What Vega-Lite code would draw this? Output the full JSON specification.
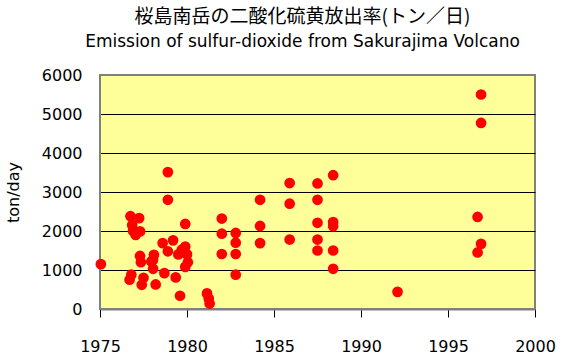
{
  "$schema": "https://vega.github.io/schema/vega-lite/v6.json",
  "width": 435,
  "height": 234,
  "autosize": "none",
  "padding": {"left": 100, "top": 75, "right": 26, "bottom": 45},
  "background": "white",
  "title": {
    "text": "桜島南岳の二酸化硫黄放出率(トン／日)",
    "subtitle": "Emission of sulfur-dioxide from Sakurajima Volcano",
    "font": "Noto Sans CJK JP",
    "fontSize": 19,
    "fontWeight": "normal",
    "color": "black",
    "subtitleFont": "DejaVu Sans",
    "subtitleFontSize": 17,
    "subtitleColor": "black",
    "subtitlePadding": 7,
    "anchor": "middle",
    "dx": -15,
    "offset": 17
  },
  "config": {
    "view": {"fill": "#FFFF99", "stroke": "#808080", "strokeWidth": 2},
    "axis": {
      "labelFont": "DejaVu Sans",
      "labelFontSize": 16,
      "labelColor": "black",
      "titleFont": "DejaVu Sans",
      "titleFontSize": 16,
      "titleFontWeight": "normal",
      "titleColor": "black",
      "domainColor": "black",
      "tickColor": "black",
      "labelFlush": false
    }
  },
  "data": {
    "values": [
      {"year": 1975.05, "so2": 1150},
      {"year": 1976.75, "so2": 2380},
      {"year": 1977.25, "so2": 2330},
      {"year": 1976.85, "so2": 2150},
      {"year": 1976.9, "so2": 2000},
      {"year": 1977.3, "so2": 1990},
      {"year": 1977.05, "so2": 1900},
      {"year": 1978.9, "so2": 3510},
      {"year": 1978.9, "so2": 2800},
      {"year": 1979.9, "so2": 2180},
      {"year": 1978.6, "so2": 1690},
      {"year": 1979.2, "so2": 1760},
      {"year": 1978.9, "so2": 1480},
      {"year": 1979.9, "so2": 1600},
      {"year": 1980.0, "so2": 1400},
      {"year": 1979.5, "so2": 1400},
      {"year": 1979.7, "so2": 1520},
      {"year": 1977.3, "so2": 1360},
      {"year": 1977.35, "so2": 1200},
      {"year": 1978.1, "so2": 1390},
      {"year": 1977.95, "so2": 1220},
      {"year": 1978.05, "so2": 1260},
      {"year": 1980.05, "so2": 1200},
      {"year": 1979.9, "so2": 1080},
      {"year": 1978.05, "so2": 1030},
      {"year": 1976.8, "so2": 880},
      {"year": 1977.5, "so2": 800},
      {"year": 1977.4, "so2": 620},
      {"year": 1976.7, "so2": 750},
      {"year": 1978.7, "so2": 920},
      {"year": 1979.35, "so2": 810},
      {"year": 1978.2, "so2": 630},
      {"year": 1979.6, "so2": 340},
      {"year": 1981.15, "so2": 400},
      {"year": 1981.25, "so2": 270},
      {"year": 1981.3, "so2": 140},
      {"year": 1982.0, "so2": 2320},
      {"year": 1982.0, "so2": 1930},
      {"year": 1982.0, "so2": 1410},
      {"year": 1982.8, "so2": 1950},
      {"year": 1982.8, "so2": 1700},
      {"year": 1982.8, "so2": 1410},
      {"year": 1982.8, "so2": 880},
      {"year": 1984.2, "so2": 2800},
      {"year": 1984.2, "so2": 2130},
      {"year": 1984.2, "so2": 1690},
      {"year": 1985.9, "so2": 3230},
      {"year": 1985.9, "so2": 2700},
      {"year": 1985.9, "so2": 1780},
      {"year": 1987.5, "so2": 3220},
      {"year": 1987.5, "so2": 2800},
      {"year": 1987.5, "so2": 2210},
      {"year": 1987.5, "so2": 1780},
      {"year": 1987.5, "so2": 1500},
      {"year": 1988.4, "so2": 3430},
      {"year": 1988.4, "so2": 2230},
      {"year": 1988.4, "so2": 2120},
      {"year": 1988.4, "so2": 1500},
      {"year": 1988.4, "so2": 1030},
      {"year": 1992.1, "so2": 440},
      {"year": 1996.9, "so2": 5500},
      {"year": 1996.9, "so2": 4770},
      {"year": 1996.7, "so2": 2360},
      {"year": 1996.9, "so2": 1670},
      {"year": 1996.7, "so2": 1450}
    ]
  },
  "mark": {"type": "point", "filled": true, "color": "#FF0000", "opacity": 1, "size": 115},
  "encoding": {
    "x": {
      "field": "year",
      "type": "quantitative",
      "scale": {"domain": [1975, 2000], "nice": false, "zero": false},
      "axis": {
        "title": null,
        "values": [1975, 1980, 1985, 1990, 1995, 2000],
        "format": "d",
        "grid": false,
        "tickSize": 8,
        "labelPadding": 21,
        "domainColor": "#808080",
        "domainWidth": 2
      }
    },
    "y": {
      "field": "so2",
      "type": "quantitative",
      "scale": {"domain": [0, 6000], "nice": false},
      "axis": {
        "title": "ton/day",
        "values": [0, 1000, 2000, 3000, 4000, 5000, 6000],
        "format": "d",
        "grid": true,
        "gridColor": {"condition": {"test": "datum.value === 6000 || datum.value === 0", "value": "#808080"}, "value": "black"},
        "gridOpacity": 1,
        "gridWidth": 1,
        "tickSize": 0,
        "labelPadding": 18,
        "titlePadding": 20,
        "domainColor": "#808080",
        "domainWidth": 1
      }
    }
  }
}
